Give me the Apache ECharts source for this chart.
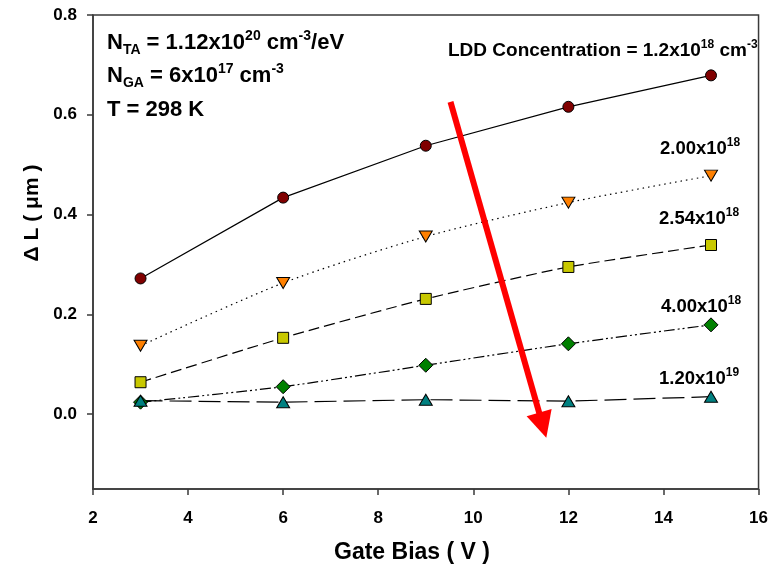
<!DOCTYPE html>
<html>
<head>
<meta charset="utf-8">
<script src="https://cdn.jsdelivr.net/npm/echarts@6/dist/echarts.min.js"></script>
<style>html,body{margin:0;padding:0;background:#fff}#c{width:771px;height:574px}</style>
</head>
<body>
<div id="c"></div>
<script>
const gateBias = [3, 6, 9, 12, 15];
const ldd12e18 = [0.272, 0.434, 0.538, 0.616, 0.679];
const ldd200e18 = [0.137, 0.263, 0.356, 0.424, 0.478];
const ldd254e18 = [0.064, 0.153, 0.231, 0.295, 0.339];
const ldd400e18 = [0.024, 0.055, 0.098, 0.141, 0.179];
const ldd120e19 = [0.027, 0.024, 0.029, 0.026, 0.035];
const xTicks = [2, 4, 6, 8, 10, 12, 14, 16];
const yTicks = [0, 0.2, 0.4, 0.6, 0.8];
const arrowStart = [9.52, 0.626];
const arrowEnd = [11.46, -0.022];

const FONT = 'Liberation Sans, Arial, sans-serif';
const AX = '#3a3a3a';

function pts(ys) { return gateBias.map((x, i) => [x, ys[i]]); }

const chart = echarts.init(document.getElementById('c'), null, {renderer: 'canvas'});

const markerBorder = {borderColor: '#000', borderWidth: 1};

function supText(x, y, text, size, supSize) {
  return {type: 'text', x: x, y: y, z: 10,
    style: {text: text, textVerticalAlign: 'middle', fontFamily: FONT, fontWeight: 'bold', fontSize: size, fill: '#000',
      rich: {
        sub: {fontFamily: FONT, fontWeight: 'bold', fontSize: supSize, fill: '#000', verticalAlign: 'bottom', lineHeight: size + 6},
        sup: {fontFamily: FONT, fontWeight: 'bold', fontSize: supSize, fill: '#000', verticalAlign: 'top', lineHeight: size + 6}
      }}};
}

const option = {
  animation: false,
  backgroundColor: '#fff',
  grid: {left: 93, right: 12, top: 15, bottom: 85, show: true, borderColor: AX, borderWidth: 1.5, backgroundColor: 'transparent'},
  xAxis: {
    type: 'value', min: 2, max: 16, interval: 2,
    axisLine: {show: true, onZero: false, lineStyle: {color: AX, width: 1.5}},
    axisTick: {show: true, inside: false, length: 6, lineStyle: {color: AX, width: 1.5}, customValues: xTicks},
    axisLabel: {fontFamily: FONT, fontWeight: 'bold', fontSize: 17, color: '#000', margin: 21, customValues: xTicks},
    splitLine: {show: false}
  },
  yAxis: {
    type: 'value', min: -0.15, max: 0.8,
    axisLine: {show: true, onZero: false, lineStyle: {color: AX, width: 1.5}},
    axisTick: {show: true, inside: false, length: 6, lineStyle: {color: AX, width: 1.5}, customValues: yTicks},
    axisLabel: {fontFamily: FONT, fontWeight: 'bold', fontSize: 17, color: '#000', margin: 16,
      customValues: yTicks, formatter: v => v.toFixed(1)},
    splitLine: {show: false}
  },
  graphic: [
    {type: 'text', x: 32, y: 213, rotation: Math.PI / 2, z: 10,
      style: {text: 'Δ L ( μm )', textAlign: 'center', textVerticalAlign: 'middle', fontFamily: FONT, fontWeight: 'bold', fontSize: 21, fill: '#000'}},
    {type: 'text', x: 412, y: 553, z: 10,
      style: {text: 'Gate Bias ( V )', textAlign: 'center', textVerticalAlign: 'middle', fontFamily: FONT, fontWeight: 'bold', fontSize: 23, fill: '#000'}},
    supText(107, 43, 'N{sub|TA} = 1.12x10{sup|20} cm{sup|-3}/eV', 22, 14),
    supText(107, 76, 'N{sub|GA} = 6x10{sup|17} cm{sup|-3}', 22, 14),
    supText(107, 110, 'T = 298 K', 22, 14),
    supText(448, 51, 'LDD Concentration = 1.2x10{sup|18} cm{sup|-3}', 19, 12),
    supText(660, 149, '2.00x10{sup|18}', 18.5, 12),
    supText(659, 219, '2.54x10{sup|18}', 18.5, 12),
    supText(661, 307, '4.00x10{sup|18}', 18.5, 12),
    supText(659, 379, '1.20x10{sup|19}', 18.5, 12)
  ],
  series: [
    {type: 'line', data: pts(ldd12e18), symbol: 'circle', symbolSize: 11,
      lineStyle: {color: '#000', width: 1.2, type: 'solid'}, itemStyle: Object.assign({color: '#800000'}, markerBorder), z: 3},
    {type: 'line', data: pts(ldd200e18), symbol: 'triangle', symbolRotate: 180, symbolSize: [13, 11], smooth: 0.25,
      lineStyle: {color: '#000', width: 1.2, type: [1.5, 4]}, itemStyle: Object.assign({color: '#ff8000'}, markerBorder), z: 3},
    {type: 'line', data: pts(ldd254e18), symbol: 'rect', symbolSize: 11, smooth: 0.2,
      lineStyle: {color: '#000', width: 1.2, type: [11, 5]}, itemStyle: Object.assign({color: '#c8c800'}, markerBorder), z: 3},
    {type: 'line', data: pts(ldd400e18), symbol: 'diamond', symbolSize: 14, smooth: 0.2,
      lineStyle: {color: '#000', width: 1.2, type: [11, 3, 2, 3, 2, 3]}, itemStyle: Object.assign({color: '#008000'}, markerBorder), z: 3},
    {type: 'line', data: pts(ldd120e19), symbol: 'triangle', symbolSize: [13, 11],
      lineStyle: {color: '#000', width: 1.2, type: [22, 7]}, itemStyle: Object.assign({color: '#008080'}, markerBorder), z: 3},
    {type: 'lines', coordinateSystem: 'cartesian2d', z: 5,
      symbol: ['none', 'triangle'], symbolSize: 26,
      lineStyle: {color: '#ff0000', width: 6, opacity: 1},
      data: [{coords: [arrowStart, arrowEnd]}]}
  ]
};
chart.setOption(option);
</script>
</body>
</html>
